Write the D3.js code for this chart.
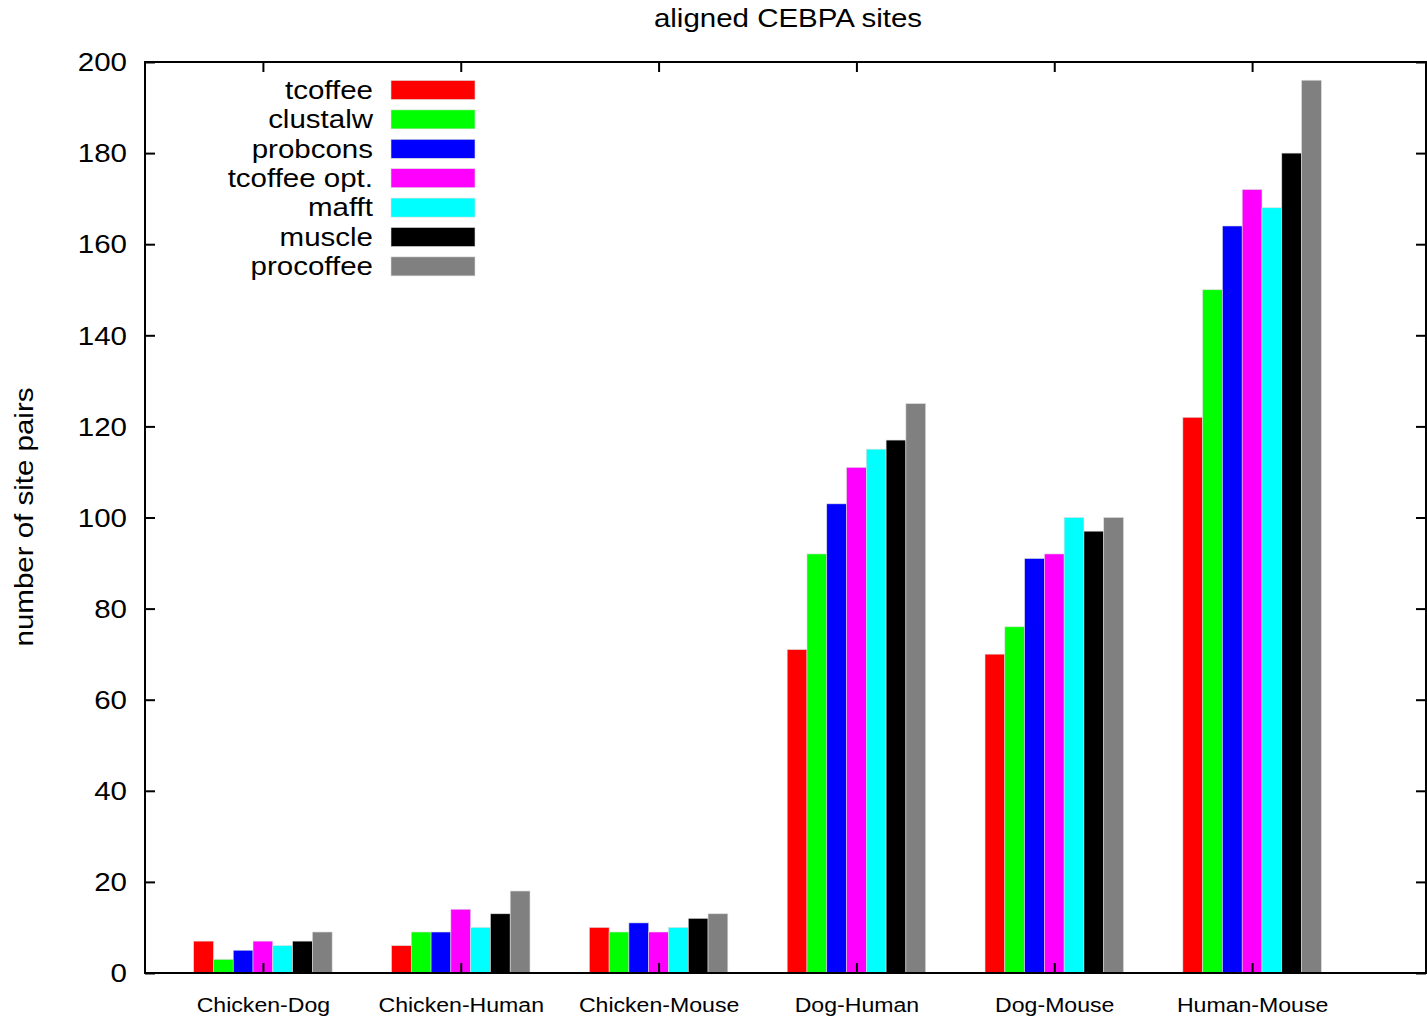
<!DOCTYPE html>
<html>
<head>
<meta charset="utf-8">
<script src="https://cdn.jsdelivr.net/npm/d3@7"></script>
<style>
  body { margin: 0; background: #fff; }
  text { font-family: "Liberation Sans", Arial, sans-serif; fill: #000; }
</style>
</head>
<body>
<div id="chart"></div>
<script>
const pairs = ['Chicken-Dog', 'Chicken-Human', 'Chicken-Mouse', 'Dog-Human', 'Dog-Mouse', 'Human-Mouse'];
const methods = ['tcoffee', 'clustalw', 'probcons', 'tcoffee opt.', 'mafft', 'muscle', 'procoffee'];
const colors = ['#ff0000', '#00ff00', '#0000ff', '#ff00ff', '#00ffff', '#000000', '#808080'];
const tcoffee = [7, 6, 10, 71, 70, 122];
const clustalw = [3, 9, 9, 92, 76, 150];
const probcons = [5, 9, 11, 103, 91, 164];
const tcoffeeOpt = [7, 14, 9, 111, 92, 172];
const mafft = [6, 10, 10, 115, 100, 168];
const muscle = [7, 13, 12, 117, 97, 180];
const procoffee = [9, 18, 13, 125, 100, 196];
const series = [tcoffee, clustalw, probcons, tcoffeeOpt, mafft, muscle, procoffee];
const yTicks = [0, 20, 40, 60, 80, 100, 120, 140, 160, 180, 200];

const W = 1427, H = 1022;
const margin = {top: 62, right: 1, bottom: 49, left: 145};
const width = W - margin.left - margin.right, height = H - margin.top - margin.bottom;
const stretch = 1.18; // reference font is wider than Liberation Sans

const svg = d3.select('#chart').append('svg')
    .attr('width', W).attr('height', H);
const g = svg.append('g').attr('transform', `translate(${margin.left},${margin.top})`);

// gnuplot-style histogram: groups at integer positions, 7 bars + gap of 3
const xScale = d3.scaleLinear().domain([-0.596, 5.879]).range([0, width]);
const yScale = d3.scaleLinear().domain([0, 200]).range([height, 0]);
const bw = 0.1;

series.forEach((vals, i) => {
    g.selectAll('.bar' + i)
        .data(vals)
        .enter()
        .append('rect')
        .attr('x', (d, j) => xScale(j + (i - 3.5) * bw))
        .attr('width', xScale(bw) - xScale(0))
        .attr('y', d => yScale(d))
        .attr('height', d => yScale(0) - yScale(d))
        .attr('fill', colors[i])
        .attr('stroke', '#dddddd')
        .attr('stroke-width', 0.6);
});

// axes, ticks inward on all sides
const yLeft = g.append('g').call(d3.axisLeft(yScale).tickValues(yTicks).tickSize(-10));
const yRight = g.append('g').attr('transform', `translate(${width},0)`)
    .call(d3.axisRight(yScale).tickValues(yTicks).tickSize(-10).tickFormat(''));
const xBottom = g.append('g').attr('transform', `translate(0,${height})`)
    .call(d3.axisBottom(xScale).tickValues(d3.range(pairs.length)).tickSize(-10)
        .tickFormat((d, i) => pairs[i]));
const xTop = g.append('g')
    .call(d3.axisTop(xScale).tickValues(d3.range(pairs.length)).tickSize(-10).tickFormat(''));

[yLeft, yRight, xBottom, xTop].forEach(a => {
    a.select('.domain').remove();
    a.selectAll('line').attr('stroke', '#000').attr('stroke-width', 2);
});
yLeft.selectAll('text')
    .attr('x', null).attr('dy', '0.35em')
    .attr('transform', `translate(-18,0) scale(${stretch},1)`)
    .style('font-size', '25px');
xBottom.selectAll('text')
    .attr('y', null).attr('dy', null)
    .attr('transform', 'translate(0,39) scale(1.1,1)')
    .style('font-size', '21px');

g.append('rect')
    .attr('width', width).attr('height', height)
    .attr('fill', 'none').attr('stroke', '#000').attr('stroke-width', 2);

// title and axis label
svg.append('text')
    .attr('transform', `translate(788,27) scale(${stretch},1)`)
    .attr('text-anchor', 'middle')
    .style('font-size', '25px')
    .text('aligned CEBPA sites');

svg.append('text')
    .attr('transform', `translate(33,517) rotate(-90) scale(${stretch},1)`)
    .attr('text-anchor', 'middle')
    .style('font-size', '25px')
    .text('number of site pairs');

// legend
const legend = svg.append('g').attr('transform', 'translate(0,90)');
const item = legend.selectAll('g')
    .data(methods)
    .enter()
    .append('g')
    .attr('transform', (d, i) => `translate(0,${i * 29.4})`);
item.append('text')
    .attr('transform', `translate(373,0) scale(${stretch},1)`)
    .attr('dy', '0.35em')
    .attr('text-anchor', 'end')
    .style('font-size', '25px')
    .text(d => d);
item.append('rect')
    .attr('x', 391).attr('y', -9.5)
    .attr('width', 84).attr('height', 19)
    .attr('fill', (d, i) => colors[i])
    .attr('stroke', '#dddddd')
    .attr('stroke-width', 0.6);
</script>
</body>
</html>
